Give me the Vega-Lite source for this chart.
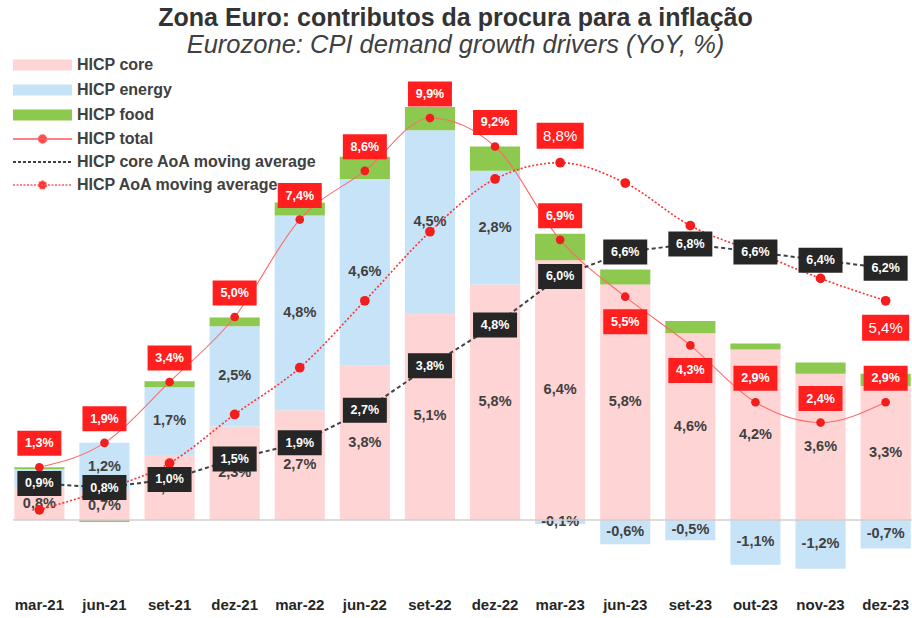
{
  "$schema": "https://vega.github.io/schema/vega-lite/v6.json",
  "width": 899,
  "height": 520,
  "autosize": {"type": "none"},
  "padding": {"left": 13, "top": 60, "right": 0, "bottom": 38},
  "title": {
    "text": "Zona Euro: contributos da procura para a inflação",
    "subtitle": "Eurozone: CPI demand growth drivers (YoY, %)",
    "anchor": "middle",
    "dx": -7,
    "offset": -1,
    "font": "Liberation Sans",
    "fontSize": 25,
    "fontWeight": "bold",
    "color": "#333333",
    "subtitleFont": "Liberation Sans",
    "subtitleFontSize": 25.5,
    "subtitleFontStyle": "italic",
    "subtitleColor": "#404040",
    "subtitlePadding": 2
  },
  "datasets": {
    "bars": [
      {"month": "mar-21", "component": "HICP core", "value": 0.8},
      {"month": "mar-21", "component": "HICP energy", "value": 0.45},
      {"month": "mar-21", "component": "HICP food", "value": 0.05},
      {"month": "jun-21", "component": "HICP core", "value": 0.7},
      {"month": "jun-21", "component": "HICP energy", "value": 1.2},
      {"month": "jun-21", "component": "HICP food", "value": -0.05},
      {"month": "set-21", "component": "HICP core", "value": 1.6},
      {"month": "set-21", "component": "HICP energy", "value": 1.67},
      {"month": "set-21", "component": "HICP food", "value": 0.15},
      {"month": "dez-21", "component": "HICP core", "value": 2.3},
      {"month": "dez-21", "component": "HICP energy", "value": 2.47},
      {"month": "dez-21", "component": "HICP food", "value": 0.22},
      {"month": "mar-22", "component": "HICP core", "value": 2.7},
      {"month": "mar-22", "component": "HICP energy", "value": 4.8},
      {"month": "mar-22", "component": "HICP food", "value": 0.32},
      {"month": "jun-22", "component": "HICP core", "value": 3.8},
      {"month": "jun-22", "component": "HICP energy", "value": 4.6},
      {"month": "jun-22", "component": "HICP food", "value": 0.55},
      {"month": "set-22", "component": "HICP core", "value": 5.1},
      {"month": "set-22", "component": "HICP energy", "value": 4.5},
      {"month": "set-22", "component": "HICP food", "value": 0.57},
      {"month": "dez-22", "component": "HICP core", "value": 5.8},
      {"month": "dez-22", "component": "HICP energy", "value": 2.8},
      {"month": "dez-22", "component": "HICP food", "value": 0.6},
      {"month": "mar-23", "component": "HICP core", "value": 6.4},
      {"month": "mar-23", "component": "HICP energy", "value": -0.1},
      {"month": "mar-23", "component": "HICP food", "value": 0.65},
      {"month": "jun-23", "component": "HICP core", "value": 5.8},
      {"month": "jun-23", "component": "HICP energy", "value": -0.6},
      {"month": "jun-23", "component": "HICP food", "value": 0.37},
      {"month": "set-23", "component": "HICP core", "value": 4.6},
      {"month": "set-23", "component": "HICP energy", "value": -0.5},
      {"month": "set-23", "component": "HICP food", "value": 0.3},
      {"month": "out-23", "component": "HICP core", "value": 4.2},
      {"month": "out-23", "component": "HICP energy", "value": -1.1},
      {"month": "out-23", "component": "HICP food", "value": 0.15},
      {"month": "nov-23", "component": "HICP core", "value": 3.6},
      {"month": "nov-23", "component": "HICP energy", "value": -1.2},
      {"month": "nov-23", "component": "HICP food", "value": 0.28},
      {"month": "dez-23", "component": "HICP core", "value": 3.3},
      {"month": "dez-23", "component": "HICP energy", "value": -0.7},
      {"month": "dez-23", "component": "HICP food", "value": 0.3}
    ],
    "lines": [
      {"month": "mar-21", "total": 1.3, "coreAoA": 0.9, "aoa": 0.25},
      {"month": "jun-21", "total": 1.9, "coreAoA": 0.8, "aoa": 0.75},
      {"month": "set-21", "total": 3.4, "coreAoA": 1.0, "aoa": 1.4},
      {"month": "dez-21", "total": 5.0, "coreAoA": 1.5, "aoa": 2.6},
      {"month": "mar-22", "total": 7.4, "coreAoA": 1.9, "aoa": 3.75},
      {"month": "jun-22", "total": 8.6, "coreAoA": 2.7, "aoa": 5.4},
      {"month": "set-22", "total": 9.9, "coreAoA": 3.8, "aoa": 7.1},
      {"month": "dez-22", "total": 9.2, "coreAoA": 4.8, "aoa": 8.4},
      {"month": "mar-23", "total": 6.9, "coreAoA": 6.0, "aoa": 8.8},
      {"month": "jun-23", "total": 5.5, "coreAoA": 6.6, "aoa": 8.3},
      {"month": "set-23", "total": 4.3, "coreAoA": 6.8, "aoa": 7.25},
      {"month": "out-23", "total": 2.9, "coreAoA": 6.6, "aoa": 6.6},
      {"month": "nov-23", "total": 2.4, "coreAoA": 6.4, "aoa": 5.95},
      {"month": "dez-23", "total": 2.9, "coreAoA": 6.2, "aoa": 5.4}
    ]
  },
  "layer": [
    {
      "data": {"name": "bars"},
      "mark": {"type": "bar"},
      "encoding": {
        "x": {
          "field": "month", "type": "nominal",
          "scale": {
            "domain": ["mar-21", "jun-21", "set-21", "dez-21", "mar-22", "jun-22", "set-22", "dez-22", "mar-23", "jun-23", "set-23", "out-23", "nov-23", "dez-23"],
            "paddingInner": 0.23, "paddingOuter": 0.02
          },
          "axis": {
            "title": null, "domain": false, "ticks": false, "labelAngle": 0,
            "labelFont": "Liberation Sans", "labelFontSize": 15, "labelFontWeight": "bold",
            "labelColor": "#262626", "labelPadding": 17
          }
        },
        "y": {
          "field": "value", "type": "quantitative", "stack": "zero",
          "scale": {"domain": [-1.478, 11.33], "nice": false, "zero": false},
          "axis": null
        },
        "color": {
          "field": "component", "type": "nominal",
          "scale": {
            "domain": ["HICP core", "HICP energy", "HICP food", "HICP total", "HICP core AoA moving average", "HICP AoA moving average"],
            "range": ["#ffd4d4", "#c7e3f8", "#8dc84f", "#ff4d4d", "#404040", "#ff3030"]
          },
          "legend": {
            "orient": "none", "legendX": 0, "legendY": -3, "title": null, "padding": 0,
            "symbolSize": 100, "symbolStrokeWidth": 1.5, "labelOffset": 48,
            "labelFont": "Liberation Sans", "labelFontSize": 16, "labelFontWeight": "bold",
            "labelColor": "#404040", "labelLimit": 400, "rowPadding": 7,
            "encode": {
              "symbols": {
                "update": {
                  "shape": {"signal": "indexof(['HICP core','HICP energy','HICP food'], datum.value) >= 0 ? 'M-1.6,-1.1H10.2V1.1H-1.6Z' : datum.value === 'HICP core AoA moving average' ? 'M-1.6,0H10.2' : 'M-1.6,0H10.2M5.1,0A0.8,0.8 0 1,1 3.5,0A0.8,0.8 0 1,1 5.1,0'"},
                  "fill": {"signal": "datum.value === 'HICP core' ? '#ffd4d4' : datum.value === 'HICP energy' ? '#c7e3f8' : datum.value === 'HICP food' ? '#8dc84f' : datum.value === 'HICP core AoA moving average' ? 'transparent' : '#f21d1d'"},
                  "stroke": {"signal": "indexof(['HICP core','HICP energy','HICP food'], datum.value) >= 0 ? 'transparent' : datum.value === 'HICP core AoA moving average' ? '#404040' : '#ff5a5a'"},
                  "strokeDash": {"signal": "datum.value === 'HICP core AoA moving average' ? [3, 2] : datum.value === 'HICP AoA moving average' ? [2, 1.5] : []"},
                  "strokeWidth": {"signal": "datum.value === 'HICP core AoA moving average' ? 2 : 1.3"},
                  "opacity": {"value": 1}
                }
              }
            }
          }
        },
        "order": {"field": "component", "sort": "ascending"}
      }
    },
    {
      "data": {"name": "bars"},
      "transform": [{"filter": "datum.component !== 'HICP food' && !(datum.month === 'mar-21' && datum.component === 'HICP energy')"}],
      "mark": {"type": "text", "font": "Liberation Sans", "fontSize": 14.5, "fontWeight": "bold", "color": "#404040"},
      "encoding": {
        "x": {"field": "month", "type": "nominal"},
        "y": {"field": "value", "type": "quantitative", "stack": "zero", "bandPosition": 0.5},
        "detail": {"field": "component"},
        "order": {"field": "component", "sort": "ascending"},
        "text": {"field": "value", "type": "quantitative", "format": "$.1f"}
      }
    },
    {
      "data": {"values": [{}]},
      "mark": {"type": "rule", "color": "#d0d0d0", "strokeWidth": 1.5},
      "encoding": {"y": {"datum": 0}}
    },
    {
      "data": {"name": "lines"},
      "mark": {"type": "line", "interpolate": "monotone", "color": "#ff6b6b", "strokeWidth": 1.1},
      "encoding": {"x": {"field": "month", "type": "nominal"}, "y": {"field": "total", "type": "quantitative"}}
    },
    {
      "data": {"name": "lines"},
      "mark": {"type": "line", "interpolate": "monotone", "color": "#ff3030", "strokeWidth": 1.6, "strokeDash": [2, 2]},
      "encoding": {"x": {"field": "month", "type": "nominal"}, "y": {"field": "aoa", "type": "quantitative"}}
    },
    {
      "data": {"name": "lines"},
      "mark": {"type": "line", "color": "#404040", "strokeWidth": 2, "strokeDash": [4, 3]},
      "encoding": {"x": {"field": "month", "type": "nominal"}, "y": {"field": "coreAoA", "type": "quantitative"}}
    },
    {
      "data": {"name": "lines"},
      "mark": {"type": "point", "filled": true, "color": "#f21d1d", "size": 75, "opacity": 1},
      "encoding": {"x": {"field": "month", "type": "nominal"}, "y": {"field": "total", "type": "quantitative"}}
    },
    {
      "data": {"name": "lines"},
      "mark": {"type": "point", "filled": true, "color": "#f21d1d", "size": 95, "opacity": 1},
      "encoding": {"x": {"field": "month", "type": "nominal"}, "y": {"field": "aoa", "type": "quantitative"}}
    },
    {
      "data": {"name": "lines"},
      "mark": {"type": "point", "shape": "M-1.76,-1H1.76V1H-1.76Z", "size": 625, "filled": true, "color": "#262626", "opacity": 1},
      "encoding": {"x": {"field": "month", "type": "nominal"}, "y": {"field": "coreAoA", "type": "quantitative"}}
    },
    {
      "data": {"name": "lines"},
      "mark": {"type": "text", "font": "Liberation Sans", "fontSize": 12.5, "fontWeight": "bold", "color": "#ffffff"},
      "encoding": {"x": {"field": "month", "type": "nominal"}, "y": {"field": "coreAoA", "type": "quantitative"}, "text": {"field": "coreAoA", "type": "quantitative", "format": "$.1f"}}
    },
    {
      "data": {"name": "lines"},
      "transform": [{"filter": "indexof(['jun-23','set-23'], datum.month) < 0"}],
      "mark": {"type": "point", "shape": "M-1.76,-1H1.76V1H-1.76Z", "size": 625, "filled": true, "color": "#ff1f1f", "opacity": 1, "yOffset": -24},
      "encoding": {"x": {"field": "month", "type": "nominal"}, "y": {"field": "total", "type": "quantitative"}}
    },
    {
      "data": {"name": "lines"},
      "transform": [{"filter": "indexof(['jun-23','set-23'], datum.month) < 0"}],
      "mark": {"type": "text", "font": "Liberation Sans", "fontSize": 12.5, "fontWeight": "bold", "color": "#ffffff", "yOffset": -24},
      "encoding": {"x": {"field": "month", "type": "nominal"}, "y": {"field": "total", "type": "quantitative"}, "text": {"field": "total", "type": "quantitative", "format": "$.1f"}}
    },
    {
      "data": {"name": "lines"},
      "transform": [{"filter": "indexof(['jun-23','set-23'], datum.month) >= 0"}],
      "mark": {"type": "point", "shape": "M-1.76,-1H1.76V1H-1.76Z", "size": 625, "filled": true, "color": "#ff1f1f", "opacity": 1, "yOffset": 25},
      "encoding": {"x": {"field": "month", "type": "nominal"}, "y": {"field": "total", "type": "quantitative"}}
    },
    {
      "data": {"name": "lines"},
      "transform": [{"filter": "indexof(['jun-23','set-23'], datum.month) >= 0"}],
      "mark": {"type": "text", "font": "Liberation Sans", "fontSize": 12.5, "fontWeight": "bold", "color": "#ffffff", "yOffset": 25},
      "encoding": {"x": {"field": "month", "type": "nominal"}, "y": {"field": "total", "type": "quantitative"}, "text": {"field": "total", "type": "quantitative", "format": "$.1f"}}
    },
    {
      "data": {"name": "lines"},
      "transform": [{"filter": "datum.month === 'mar-23'"}],
      "mark": {"type": "point", "shape": "M-1.81,-1H1.81V1H-1.81Z", "size": 676, "filled": true, "color": "#ff1f1f", "opacity": 1, "yOffset": -27},
      "encoding": {"x": {"field": "month", "type": "nominal"}, "y": {"field": "aoa", "type": "quantitative"}}
    },
    {
      "data": {"name": "lines"},
      "transform": [{"filter": "datum.month === 'mar-23'"}],
      "mark": {"type": "text", "font": "Liberation Sans", "fontSize": 15, "color": "#ffffff", "yOffset": -27},
      "encoding": {"x": {"field": "month", "type": "nominal"}, "y": {"field": "aoa", "type": "quantitative"}, "text": {"field": "aoa", "type": "quantitative", "format": "$.1f"}}
    },
    {
      "data": {"name": "lines"},
      "transform": [{"filter": "datum.month === 'dez-23'"}],
      "mark": {"type": "point", "shape": "M-1.81,-1H1.81V1H-1.81Z", "size": 676, "filled": true, "color": "#ff1f1f", "opacity": 1, "yOffset": 27},
      "encoding": {"x": {"field": "month", "type": "nominal"}, "y": {"field": "aoa", "type": "quantitative"}}
    },
    {
      "data": {"name": "lines"},
      "transform": [{"filter": "datum.month === 'dez-23'"}],
      "mark": {"type": "text", "font": "Liberation Sans", "fontSize": 15, "color": "#ffffff", "yOffset": 27},
      "encoding": {"x": {"field": "month", "type": "nominal"}, "y": {"field": "aoa", "type": "quantitative"}, "text": {"field": "aoa", "type": "quantitative", "format": "$.1f"}}
    }
  ],
  "config": {
    "view": {"stroke": null},
    "font": "Liberation Sans",
    "locale": {
      "number": {"decimal": ",", "thousands": ".", "grouping": [3], "currency": ["", "%"], "minus": "-"}
    }
  }
}
